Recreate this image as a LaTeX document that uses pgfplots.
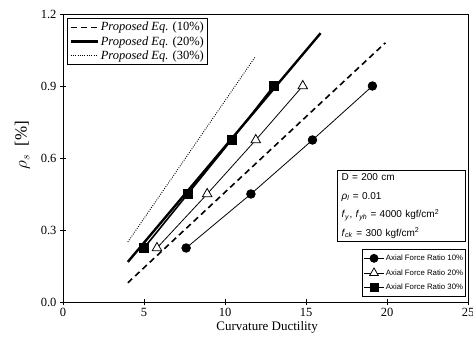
\documentclass[border=0pt]{standalone}
\usepackage{fontspec}
\setmainfont{Liberation Serif}
\setsansfont{Liberation Sans}
\usepackage{pgfplots}
\pgfplotsset{compat=1.18}

\begin{document}
\begin{tikzpicture}
\begin{axis}[
  name=ax,
  scale only axis,
  width=405pt, height=288pt,
  xmin=0, xmax=25, ymin=0, ymax=1.2,
  xtick={0,5,10,15,20,25},
  ytick={0,0.3,0.6,0.9,1.2},
  xtick pos=left, ytick pos=left,
  tick align=center,
  major tick length=6pt,
  tick style={black, line width=0.8pt},
  axis line style={line width=0.9pt},
  /pgf/number format/assume math mode=true,
  yticklabel style={/pgf/number format/fixed, /pgf/number format/fixed zerofill, /pgf/number format/precision=1},
  ticklabel style={font=\fontsize{12.5}{14}\selectfont},
  xlabel={Curvature Ductility},
  xlabel style={font=\fontsize{13}{15}\selectfont, at={(axis description cs:0.504,-0.087)}, anchor=center},
  ylabel={$\rho_s$\enspace[\%]},
  ylabel style={font=\fontsize{17}{19}\selectfont, at={(axis description cs:-0.1,0.545)}, anchor=center},
  legend style={at={(axis description cs:0.01,0.985)}, anchor=north west, draw=black, line width=0.8pt,
    font=\fontsize{12.5}{14}\selectfont, row sep=0pt, inner xsep=2pt, inner ysep=1.5pt},
  legend cell align=left,
  legend image code/.code={\draw[#1] (0pt,0pt) -- (27pt,0pt);},
]
% proposed equation lines
\addplot[black, line width=1.6pt, dash pattern=on 6pt off 4pt] coordinates {(4.0,0.08) (19.9,1.08)};
\addlegendentry{\textit{Proposed Eq.} (10\%)}
\addplot[black, line width=2.4pt] coordinates {(4.0,0.167) (15.9,1.12)};
\addlegendentry{\textit{Proposed Eq.} (20\%)}
\addplot[black, line width=0.9pt, dash pattern=on 0.9pt off 1.4pt] coordinates {(4.0,0.25) (11.85,1.02)};
\addlegendentry{\textit{Proposed Eq.} (30\%)}

% analysis results
\addplot[black, line width=0.8pt, mark=*, mark size=4.3pt, forget plot]
  coordinates {(7.6,0.225) (11.6,0.45) (15.4,0.675) (19.1,0.9)};
\addplot[black, line width=0.8pt, mark=triangle*, mark size=5.5pt,
  mark options={fill=white, line width=0.8pt}, forget plot]
  coordinates {(5.8,0.225) (8.9,0.45) (11.9,0.675) (14.8,0.9)};
\addplot[black, line width=1.6pt, mark=square*, mark size=4.3pt, mark options={line width=0.5pt}, forget plot]
  coordinates {(5.0,0.225) (7.7,0.45) (10.4,0.675) (13.0,0.9)};

% material data
\node[draw=black, line width=0.8pt, anchor=south east, align=left, inner xsep=4pt,
  text width=120pt, minimum height=69pt, font=\sffamily\fontsize{10}{18.5}\selectfont]
  at (axis description cs:0.995,0.2083)
  {D = 200 cm\\
   \textit{ρ}\textsubscript{\textit{l}} = 0.01\\
   \textit{f}\textsubscript{\textit{y}}, \textit{f}\textsubscript{\textit{yh}} = 4000 kgf/cm\textsuperscript{2}\\
   \textit{f}\textsubscript{\textit{ck}} = 300 kgf/cm\textsuperscript{2}};
\end{axis}

% marker legend
\begin{axis}[
  scale only axis, width=405pt, height=288pt,
  xmin=0, xmax=25, ymin=0, ymax=1.2, hide axis,
  legend style={at={(0.995,0.017)}, anchor=south east, draw=black, line width=0.8pt,
    font=\sffamily\fontsize{7.8}{10}\selectfont, row sep=4.5pt, inner ysep=4pt, inner xsep=1pt,
    nodes={inner sep=1.5pt, text depth=0.15em}},
  legend cell align=left,
  legend image code/.code={\draw[#1, mark repeat=2, mark phase=2]
    plot coordinates {(0pt,0pt) (10pt,0pt) (20pt,0pt)};},
]
\addlegendimage{black, line width=0.8pt, mark=*, mark size=4pt}
\addlegendentry{Axial Force Ratio 10\%}
\addlegendimage{black, line width=0.8pt, mark=triangle*, mark size=5pt, mark options={fill=white}}
\addlegendentry{Axial Force Ratio 20\%}
\addlegendimage{black, line width=0.8pt, mark=square*, mark size=4pt}
\addlegendentry{Axial Force Ratio 30\%}
\end{axis}

\pgfresetboundingbox
\path ([shift={(-63pt,-40pt)}]ax.south west) rectangle ([shift={(5pt,14pt)}]ax.north east);
\end{tikzpicture}
\end{document}
